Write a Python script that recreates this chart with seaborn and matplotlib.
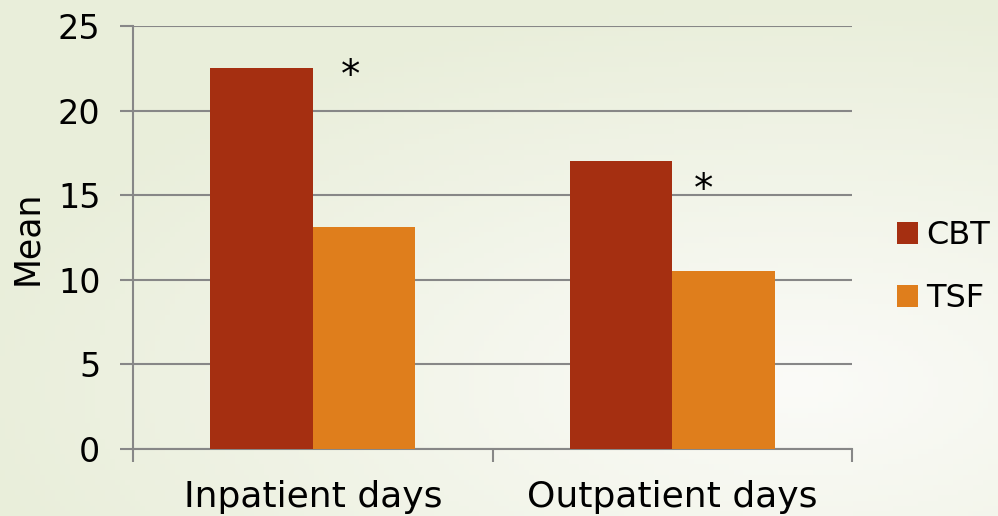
import numpy as np
import pandas as pd
import matplotlib
matplotlib.use("Agg")
import matplotlib.pyplot as plt
import seaborn as sns

categories = ["Inpatient days", "Outpatient days"]
groups = ["CBT", "TSF"]
cbt_values = [22.5, 17.0]
tsf_values = [13.1, 10.5]
yticks = [0, 5, 10, 15, 20, 25]
sig_marks = ["*", "*"]

df = pd.DataFrame({
    "category": categories * 2,
    "group": ["CBT"] * len(categories) + ["TSF"] * len(categories),
    "value": cbt_values + tsf_values,
})

sns.set_theme(style="white")
plt.rcParams['font.family'] = ['DejaVu Sans']
plt.rcParams['text.color'] = 'black'

fig = plt.figure(figsize=(9.98, 5.16), dpi=100)

# background gradient
bg = fig.add_axes([0, 0, 1, 1], zorder=-10)
h, w = 100, 200
yy, xx = np.mgrid[0:1:h*1j, 0:1:w*1j]
d = np.clip(np.sqrt(((xx - 0.8) / 1.0) ** 2 + ((yy - 0.75) / 0.9) ** 2) / 0.85, 0, 1)
c_light = np.array([251, 251, 248]) / 255
c_dark = np.array([233, 238, 218]) / 255
img = c_light[None, None, :] * (1 - d[..., None]) + c_dark[None, None, :] * d[..., None]
bg.imshow(img, aspect="auto", extent=[0, 1, 0, 1], origin="upper")
bg.axis("off")

ax = fig.add_axes([0.1333, 0.1298, 0.7204, 0.8198])
ax.patch.set_alpha(0)
palette = {"CBT": "#A52F11", "TSF": "#DF7E1C"}
sns.barplot(data=df, x="category", y="value", hue="group", palette=palette,
            saturation=1, width=0.57, gap=0, ax=ax, edgecolor="none",
            linewidth=0, zorder=3)

ax.set_ylim(0, 25)
ax.set_xlim(-0.5, 1.5)
ax.set_yticks(yticks)
ax.set_yticklabels([str(t) for t in yticks], fontsize=24, color="black")
ax.grid(axis="y", color="#878787", linewidth=1.5, zorder=0)
ax.set_axisbelow(True)
ax.tick_params(axis="y", length=9.5, width=1.5, color="#878787", pad=14, left=True)

ax.set_xticks([0, 1])
ax.set_xticklabels(categories, fontsize=26, color="black")
ax.tick_params(axis="x", which="major", length=0, pad=22)
ax.set_xticks([-0.5, 0.5, 1.5], minor=True)
ax.tick_params(axis="x", which="minor", length=9, width=1.5, color="#878787", bottom=True)

for s in ["top", "right"]:
    ax.spines[s].set_visible(False)
for s in ["left", "bottom"]:
    ax.spines[s].set_color("#878787")
    ax.spines[s].set_linewidth(1.5)

ax.set_xlabel("")
ax.set_ylabel("Mean", fontsize=25, color="black", labelpad=10)

# significance markers
ax.text(0.106, cbt_values[0] - 0.45, sig_marks[0], ha="center", va="center",
        fontsize=28, color="black", zorder=5)
ax.text(1.088, cbt_values[1] - 1.7, sig_marks[1], ha="center", va="center",
        fontsize=28, color="black", zorder=5)

leg = ax.legend(loc="center left", bbox_to_anchor=(1.0626, 0.430), frameon=False,
                fontsize=23, handlelength=0.66, handleheight=0.66, handletextpad=0.25,
                labelspacing=1.0, borderaxespad=0, borderpad=0)
for t in leg.get_texts():
    t.set_color("black")

fig.savefig("out.png", dpi=100)
